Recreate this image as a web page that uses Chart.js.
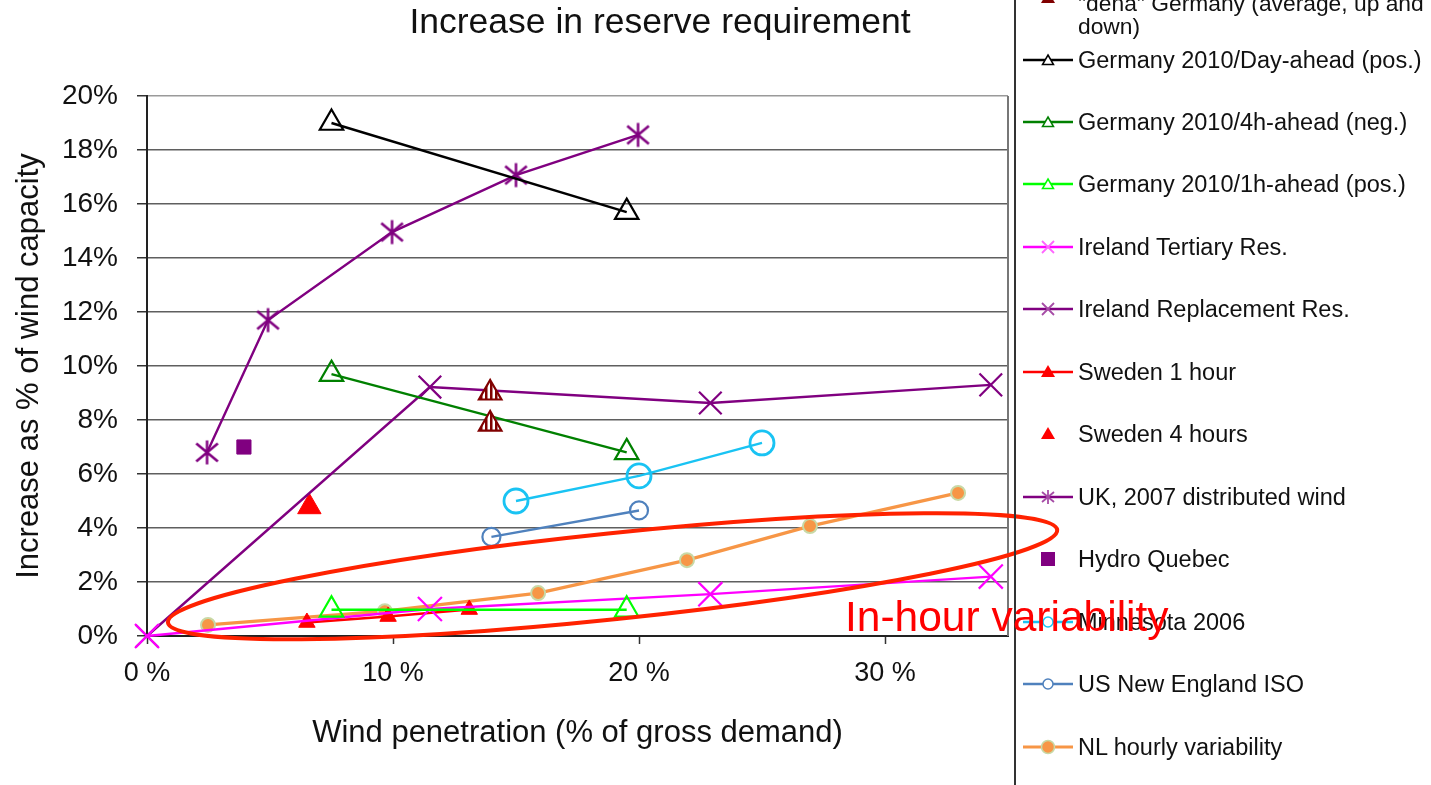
<!DOCTYPE html>
<html>
<head>
<meta charset="utf-8">
<title>Increase in reserve requirement</title>
<script src="https://cdn.jsdelivr.net/npm/chart.js@4.4.0/dist/chart.umd.min.js"></script>
<style>
    html, body { margin: 0; padding: 0; background: #fff; }
    body {
        width: 1431px; height: 785px; position: relative; overflow: hidden;
        font-family: "Liberation Sans", Arial, sans-serif; color: #111;
    }
    #chart { position: absolute; left: 0; top: 0; }
    #title {
        position: absolute; left: 0; top: 0; width: 1320px;
        text-align: center; font-size: 35.5px; line-height: 42px;
    }
    #legend {
        position: absolute; left: 1014px; top: 0; width: 417px; height: 785px;
        border-left: 2px solid #333;
    }
    .leg-item {
        position: absolute; left: 7px; height: 30px;
        display: flex; align-items: center;
        font-size: 23.5px; white-space: nowrap;
    }
    .leg-item svg { width: 50px; height: 30px; margin-right: 5px; flex: none; }
    .leg-text2 { position: absolute; left: 62px; font-size: 22.8px; line-height: 23px; white-space: nowrap; }
    #note {
        position: absolute; left: 845px; top: 596px; z-index: 5;
        font-size: 42.5px; line-height: 42px; color: #ff0000; white-space: nowrap;
    }
</style>
</head>
<body>
<canvas id="chart" width="1431" height="785"></canvas>
<div id="title">Increase in reserve requirement</div>
<div id="legend"></div>
<div id="note">In-hour variability</div>

<script>
// axis ticks
const X_TICKS = [0, 10, 20, 30];
const Y_TICKS = [0, 2, 4, 6, 8, 10, 12, 14, 16, 18, 20];

// series values (x = wind penetration %, y = increase %)
const DENA_X = [13.95, 13.95];
const DENA_Y = [9.0, 7.85];
const DE_DAYAHEAD_X = [7.5, 19.5];
const DE_DAYAHEAD_Y = [19.0, 15.7];
const DE_4H_X = [7.5, 19.5];
const DE_4H_Y = [9.7, 6.8];
const DE_1H_X = [7.5, 19.5];
const DE_1H_Y = [0.97, 0.97];
const IE_TERT_X = [0, 11.5, 22.9, 34.3];
const IE_TERT_Y = [0, 1.0, 1.55, 2.2];
const IE_REPL_X = [0, 11.5, 22.9, 34.3];
const IE_REPL_Y = [0, 9.22, 8.63, 9.3];
const SE_1H_X = [6.5, 9.8, 13.1];
const SE_1H_Y = [0.5, 0.72, 0.98];
const SE_4H_X = [6.6];
const SE_4H_Y = [4.78];
const UK_X = [2.44, 4.92, 9.96, 15.0, 19.96];
const UK_Y = [6.8, 11.7, 14.96, 17.07, 18.56];
const HQ_X = [3.94];
const HQ_Y = [7.0];
const MN_X = [15.0, 20.0, 25.0];
const MN_Y = [5.0, 5.93, 7.15];
const NE_X = [14.0, 20.0];
const NE_Y = [3.67, 4.65];
const NL_X = [2.48, 9.67, 15.9, 21.95, 26.95, 32.97];
const NL_Y = [0.41, 0.92, 1.59, 2.81, 4.07, 5.3];

// ellipse annotation, tips in data units
const ELLIPSE_TIPS = [[0.85, 0.5], [37.0, 3.93]];
const ELLIPSE_SEMI_MINOR = 43;

const FONT = '"Liberation Sans", Arial, sans-serif';
const DARK_RED = "#800000";
const PURPLE = "#800080";
const CYAN = "#19c3f3";
const STEEL = "#4f81bd";
const ORANGE = "#f79646";

const canvas = document.getElementById("chart");
const mainCtx = canvas.getContext("2d");

function hatchPattern() {
    const c = document.createElement("canvas");
    c.width = 5; c.height = 4;
    const g = c.getContext("2d");
    g.fillStyle = "#fff";
    g.fillRect(0, 0, 5, 4);
    g.fillStyle = DARK_RED;
    g.fillRect(0, 0, 2.5, 4);
    return mainCtx.createPattern(c, "repeat");
}

function asteriskImage(color, r, lw) {
    const size = Math.ceil(2 * r + 2 * lw);
    const c = document.createElement("canvas");
    c.width = size; c.height = size;
    const g = c.getContext("2d");
    const m = size / 2;
    g.strokeStyle = color;
    g.lineWidth = lw;
    g.beginPath();
    g.moveTo(m, m - r); g.lineTo(m, m + r);
    g.moveTo(m - r * 0.9, m - r * 0.75); g.lineTo(m + r * 0.9, m + r * 0.75);
    g.moveTo(m - r * 0.9, m + r * 0.75); g.lineTo(m + r * 0.9, m - r * 0.75);
    g.stroke();
    return c;
}

function series(label, xs, ys, opts) {
    return Object.assign({
        label,
        data: xs.map((x, i) => ({ x, y: ys[i] })),
        showLine: true,
        borderWidth: 2.4,
        pointBorderWidth: 2.2,
        clip: false,
    }, opts);
}

const datasets = [
    series('"dena" Germany (average, up and down)', DENA_X, DENA_Y, {
        showLine: false, pointStyle: "triangle", pointRadius: 13,
        pointBackgroundColor: hatchPattern(), pointBorderColor: DARK_RED, borderColor: DARK_RED,
    }),
    series("Germany 2010/Day-ahead (pos.)", DE_DAYAHEAD_X, DE_DAYAHEAD_Y, {
        borderColor: "#000", pointStyle: "triangle", pointRadius: 13.5,
        pointBackgroundColor: "rgba(255,255,255,0)",
    }),
    series("Germany 2010/4h-ahead (neg.)", DE_4H_X, DE_4H_Y, {
        borderColor: "#008000", pointStyle: "triangle", pointRadius: 13.5,
        pointBackgroundColor: "rgba(255,255,255,0)",
    }),
    series("Germany 2010/1h-ahead (pos.)", DE_1H_X, DE_1H_Y, {
        borderColor: "#00ff00", pointStyle: "triangle", pointRadius: 13.5,
        pointBackgroundColor: "rgba(255,255,255,0)",
    }),
    series("Ireland Tertiary Res.", IE_TERT_X, IE_TERT_Y, {
        borderColor: "#ff00ff", pointStyle: "crossRot", pointRadius: 17,
    }),
    series("Ireland Replacement Res.", IE_REPL_X, IE_REPL_Y, {
        borderColor: PURPLE, pointStyle: "crossRot", pointRadius: 16,
    }),
    series("Sweden 1 hour", SE_1H_X, SE_1H_Y, {
        borderColor: "#ff0000", pointStyle: "triangle", pointRadius: 9.5,
        pointBackgroundColor: "#ff0000", pointBorderWidth: 1,
    }),
    series("Sweden 4 hours", SE_4H_X, SE_4H_Y, {
        showLine: false, borderColor: "#ff0000", pointStyle: "triangle", pointRadius: 13.5,
        pointBackgroundColor: "#ff0000", pointBorderWidth: 1,
    }),
    series("UK, 2007 distributed wind", UK_X, UK_Y, {
        borderColor: PURPLE, pointStyle: asteriskImage(PURPLE, 12, 2.5),
    }),
    series("Hydro Quebec", HQ_X, HQ_Y, {
        showLine: false, borderColor: PURPLE, pointStyle: "rect", pointRadius: 10,
        pointBackgroundColor: PURPLE, pointBorderWidth: 1,
    }),
    series("Minnesota 2006", MN_X, MN_Y, {
        borderColor: CYAN, pointStyle: "circle", pointRadius: 12, pointBorderWidth: 2.8,
        pointBackgroundColor: "rgba(255,255,255,0)",
    }),
    series("US New England ISO", NE_X, NE_Y, {
        borderColor: STEEL, pointStyle: "circle", pointRadius: 9, pointBorderWidth: 2.2,
        pointBackgroundColor: "rgba(255,255,255,0)",
    }),
    series("NL hourly variability", NL_X, NL_Y, {
        borderColor: ORANGE, borderWidth: 3.2, pointStyle: "circle", pointRadius: 7,
        pointBackgroundColor: ORANGE, pointBorderColor: "#c8d9a6", pointBorderWidth: 2,
    }),
];

// frame on the right + red ellipse
const framePlugin = {
    id: "frame",
    beforeDatasetsDraw(chart) {
        const { ctx, chartArea: a } = chart;
        ctx.save();
        ctx.lineWidth = 2;
        ctx.strokeStyle = "#777";
        ctx.beginPath();
        ctx.moveTo(a.right, a.top);
        ctx.lineTo(a.right, a.bottom);
        ctx.stroke();
        ctx.restore();
    },
    afterDatasetsDraw(chart) {
        const { ctx, scales: { x, y } } = chart;
        const [p0, p1] = ELLIPSE_TIPS.map(([vx, vy]) => [x.getPixelForValue(vx), y.getPixelForValue(vy)]);
        const cx = (p0[0] + p1[0]) / 2;
        const cy = (p0[1] + p1[1]) / 2;
        const semiMajor = Math.hypot(p1[0] - p0[0], p1[1] - p0[1]) / 2;
        const angle = Math.atan2(p1[1] - p0[1], p1[0] - p0[0]);
        ctx.save();
        ctx.strokeStyle = "#ff2200";
        ctx.lineWidth = 4;
        ctx.beginPath();
        ctx.ellipse(cx, cy, semiMajor, ELLIPSE_SEMI_MINOR, angle, 0, Math.PI * 2);
        ctx.stroke();
        ctx.restore();
    },
};

new Chart(canvas, {
    type: "scatter",
    data: { datasets },
    options: {
        responsive: false,
        animation: false,
        events: [],
        layout: { padding: { top: 96, right: 423, bottom: 0, left: 0 } },
        plugins: {
            legend: { display: false },
            tooltip: { enabled: false },
            title: { display: false },
        },
        scales: {
            x: {
                type: "linear",
                min: 0,
                max: 35,
                afterBuildTicks: (s) => { s.ticks = X_TICKS.map((v) => ({ value: v })); },
                afterFit: (s) => { s.height = 149; },
                grid: { drawOnChartArea: false, drawTicks: true, tickLength: 8, tickColor: "#333", tickWidth: 1.5 },
                border: { color: "#222", width: 2 },
                ticks: {
                    callback: (v) => v + " %",
                    font: { family: FONT, size: 27 },
                    color: "#111",
                    padding: 13,
                    maxRotation: 0,
                },
                title: {
                    display: true,
                    text: "Wind penetration (% of gross demand)",
                    font: { family: FONT, size: 31 },
                    color: "#111",
                    padding: { top: 0, bottom: 33 },
                },
            },
            y: {
                type: "linear",
                min: 0,
                max: 20,
                afterBuildTicks: (s) => { s.ticks = Y_TICKS.map((v) => ({ value: v })); },
                afterFit: (s) => { s.width = 147; },
                grid: {
                    color: (c) => (c.tick && c.tick.value === 20 ? "#9a9a9a" : "#5f5f5f"),
                    lineWidth: 1.5,
                    tickLength: 10,
                    tickColor: "#333",
                },
                border: { color: "#222", width: 2 },
                ticks: {
                    callback: (v) => v + "%",
                    font: { family: FONT, size: 28 },
                    color: "#111",
                    padding: 19,
                },
                title: {
                    display: true,
                    text: "Increase as % of wind capacity",
                    font: { family: FONT, size: 31 },
                    color: "#111",
                    padding: { top: 11, bottom: 0 },
                },
            },
        },
    },
    plugins: [framePlugin],
});

// legend
const LEGEND_ROWS = [
    { y: 60, label: "Germany 2010/Day-ahead (pos.)", line: "#000", marker: "triOpen", color: "#000" },
    { y: 122, label: "Germany 2010/4h-ahead (neg.)", line: "#008000", marker: "triOpen", color: "#008000" },
    { y: 184, label: "Germany 2010/1h-ahead (pos.)", line: "#00ff00", marker: "triOpen", color: "#00ff00" },
    { y: 247, label: "Ireland Tertiary Res.", line: "#ff00ff", marker: "x", color: "#ff66ff" },
    { y: 309, label: "Ireland Replacement Res.", line: PURPLE, marker: "x", color: "#a64ca6" },
    { y: 372, label: "Sweden 1 hour", line: "#ff0000", marker: "triFill", color: "#ff0000" },
    { y: 434, label: "Sweden 4 hours", line: null, marker: "triFill", color: "#ff0000" },
    { y: 497, label: "UK, 2007 distributed wind", line: PURPLE, marker: "asterisk", color: "#a64ca6" },
    { y: 559, label: "Hydro Quebec", line: null, marker: "square", color: PURPLE },
    { y: 622, label: "Minnesota 2006", line: CYAN, marker: "circleOpen", color: CYAN },
    { y: 684, label: "US New England ISO", line: STEEL, marker: "circleOpen", color: STEEL },
    { y: 747, label: "NL hourly variability", line: ORANGE, marker: "circleFill", color: ORANGE },
];

function markerSvg(marker, color) {
    switch (marker) {
        case "triOpen":
            return `<polygon points="25,10 30.5,19.5 19.5,19.5" fill="#fff" stroke="${color}" stroke-width="1.5"/>`;
        case "triFill":
            return `<polygon points="25,8 32,20 18,20" fill="${color}"/>`;
        case "triHatch":
            return `<polygon points="25,8 32,20 18,20" fill="${DARK_RED}"/>`;
        case "x":
            return `<path d="M19,9 L31,21 M19,21 L31,9" stroke="${color}" stroke-width="1.8"/>`;
        case "asterisk":
            return `<path d="M25,8 L25,22 M19,10 L31,20 M19,20 L31,10" stroke="${color}" stroke-width="1.8"/>`;
        case "square":
            return `<rect x="18" y="8" width="14" height="14" fill="${color}"/>`;
        case "circleOpen":
            return `<circle cx="25" cy="15" r="5" fill="#fff" stroke="${color}" stroke-width="1.5"/>`;
        case "circleFill":
            return `<circle cx="25" cy="15" r="6.5" fill="${color}" stroke="#c8d9a6" stroke-width="1.5"/>`;
    }
    return "";
}

function legendSvg(row) {
    const line = row.line
        ? `<line x1="0" y1="15" x2="50" y2="15" stroke="${row.line}" stroke-width="${row.marker === "circleFill" ? 3.2 : 2.6}"/>`
        : "";
    return `<svg viewBox="0 0 50 30">${line}${markerSvg(row.marker, row.color)}</svg>`;
}

const legendEl = document.getElementById("legend");
legendEl.insertAdjacentHTML(
    "beforeend",
    `<div class="leg-item" style="top:-17px">${legendSvg({ line: null, marker: "triHatch" })}</div>
     <div class="leg-text2" style="top:-8px">"dena" Germany (average, up and<br>down)</div>`
);
legendEl.insertAdjacentHTML(
    "beforeend",
    LEGEND_ROWS.map(
        (r) => `<div class="leg-item" style="top:${r.y - 15}px">${legendSvg(r)}<span>${r.label}</span></div>`
    ).join("")
);
</script>
</body>
</html>
